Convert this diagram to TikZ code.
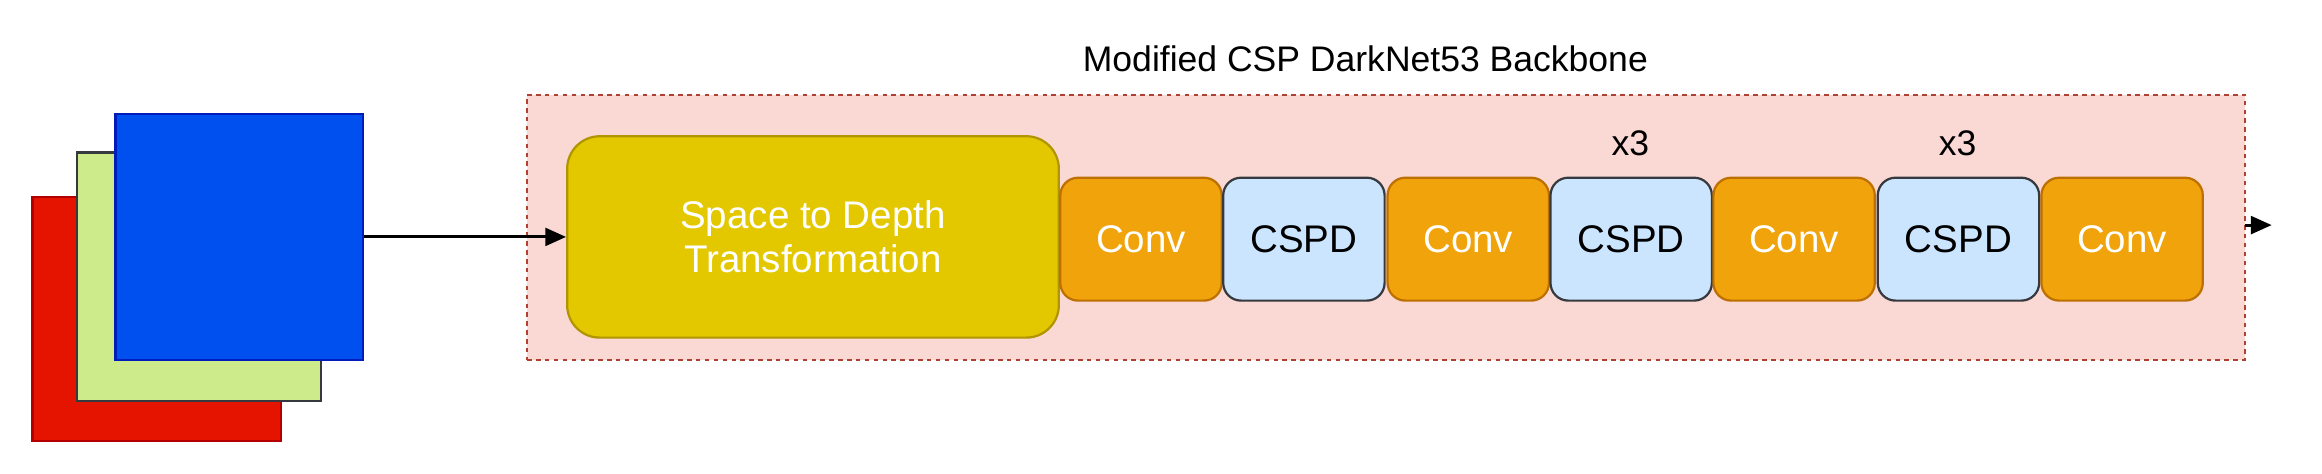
\documentclass[tikz,border=0pt]{standalone}
\usepackage{fontspec}
\setmainfont{Liberation Sans}
\usetikzlibrary{arrows.meta}
\definecolor{redf}{HTML}{E51400}\definecolor{redd}{HTML}{B20000}
\definecolor{grnf}{HTML}{CDEB8B}\definecolor{grnd}{HTML}{36393D}
\definecolor{bluf}{HTML}{0050EF}\definecolor{blud}{HTML}{001DBC}
\definecolor{pinkf}{HTML}{FAD9D5}\definecolor{pinkd}{HTML}{AE4132}
\definecolor{yelf}{HTML}{E3C800}\definecolor{yeld}{HTML}{B09500}
\definecolor{orf}{HTML}{F0A30A}\definecolor{ord}{HTML}{BD7000}
\definecolor{ltbf}{HTML}{CCE5FF}\definecolor{ltbd}{HTML}{36393D}
\begin{document}
\begin{tikzpicture}[x=1pt,y=-1pt,
  blk/.style={draw, line width=1.5pt, rounded corners=12pt, inner sep=0pt, align=center, font=\fontsize{26}{30}\selectfont},
  conv/.style={blk, fill=orf, draw=ord, text=white, minimum width=109pt, minimum height=83pt},
  cspd/.style={blk, fill=ltbf, draw=ltbd, text=black, minimum width=109pt, minimum height=83pt},
  lbl/.style={font=\fontsize{24}{28}\selectfont},
  arr/.style={-{Triangle[length=14pt,width=12pt]}, line width=2pt}]
\useasboundingbox (0,0) rectangle (1568,320);
\draw[fill=redf, draw=redd, line width=1.5pt] (22,133) rectangle (190,298);
\draw[fill=grnf, draw=grnd, line width=1.5pt] (52,103) rectangle (217,271);
\node[draw=blud, fill=bluf, line width=1.5pt, minimum width=167pt, minimum height=166pt, inner sep=0pt] (img) at (161.5,160) {};
\node[draw=pinkd, fill=pinkf, dashed, line width=1.5pt, minimum width=1160pt, minimum height=179pt, inner sep=0pt] (bb) at (936,153.5) {};
\node[lbl] (title) at (922,40) {Modified CSP DarkNet53 Backbone};
\node[blk, fill=yelf, draw=yeld, text=white, minimum width=332pt, minimum height=136pt, rounded corners=22pt] (s2d) at (549,160) {Space to Depth\\Transformation};
\node[conv] (c1) at (770.5,161.5) {Conv};
\node[cspd] (d1) at (880.5,161.5) {CSPD};
\node[conv] (c2) at (991.5,161.5) {Conv};
\node[cspd] (d2) at (1101.5,161.5) {CSPD};
\node[conv] (c3) at (1211.5,161.5) {Conv};
\node[cspd] (d3) at (1322.5,161.5) {CSPD};
\node[conv] (c4) at (1433,161.5) {Conv};
\node[lbl] (x1) at (1101,97) {x3};
\node[lbl] (x2) at (1322,97) {x3};
\coordinate (o1) at (1516,152);
\coordinate (o2) at (1534,152);
\draw[arr] (img.east |- 0,160) -- (s2d.west);
\draw[arr] (o1) -- (o2);
\end{tikzpicture}
\end{document}
